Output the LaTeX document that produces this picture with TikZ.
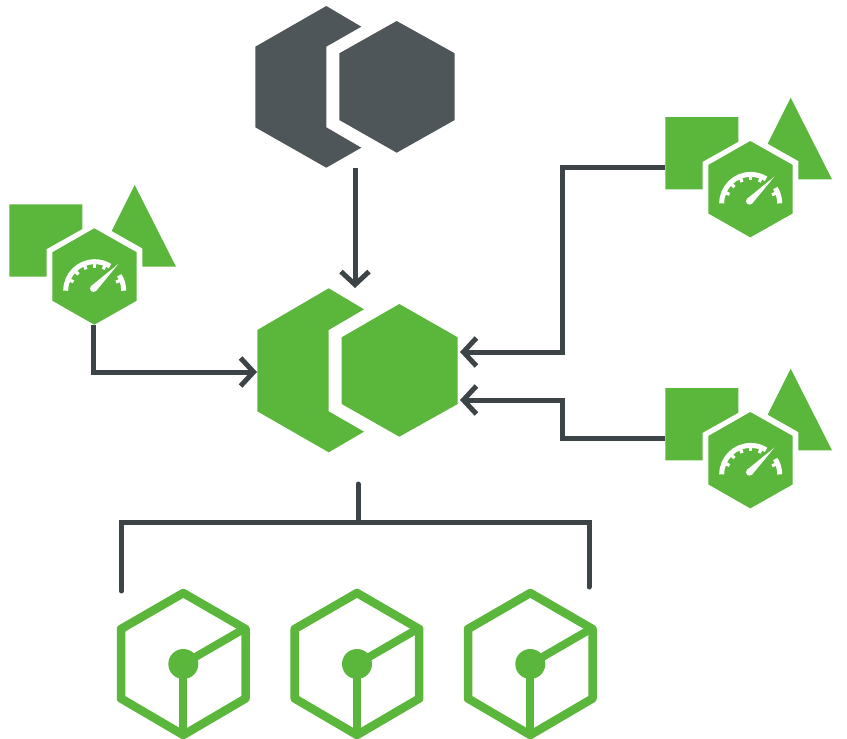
\documentclass[tikz,border=0pt]{standalone}
\usetikzlibrary{arrows.meta,calc}
\definecolor{grn}{HTML}{5BB63C}
\definecolor{slate}{HTML}{4E5659}
\definecolor{wire}{HTML}{3C4447}
\tikzset{
  x=1pt,y=-1pt,
  grnfill/.style={fill=grn,draw=none},
  darkfill/.style={fill=slate,draw=none},
  wirelink/.style={draw=wire,line width=5pt,line join=miter},
  arrowlink/.style={wirelink,-{Straight Barb[length=13pt,width=28pt,line width=5pt]}},
  pics/gaugegroup/.style={code={
    \fill[grnfill] (9.3,204.3) -- (82.3,204.3) -- (82.3,229) -- (46.7,249) -- (46.7,276.7) -- (9.3,276.7) -- cycle;
    \fill[grnfill] (134.7,185) -- (176,266.7) -- (142.3,266.7) -- (142.3,248.3) -- (111.7,231) -- cycle;
    \fill[grnfill] (94.3,228.3) -- (136.7,252.3) -- (136.7,300.7) -- (94.3,324.7) -- (52.3,300.7) -- (52.3,252.3) -- cycle;
    \coordinate (-c) at (94.7,290.7);
    \draw[white,line width=5pt] (-c) ++(-29,0) arc[start angle=180,end angle=302,radius=29];
    \draw[white,line width=5pt] (-c) ++(29,0) arc[start angle=360,end angle=328,radius=29];
    \foreach \a in {157,135,112,90,68,22}{
      \draw[white,line width=3.2pt] ($(-c)+(\a:28pt)$) -- ($(-c)+(\a:23pt)$);
    }
    \fill[white] (118.5,263.8) -- (96.2,290.8) -- (90.9,286.2) -- cycle;
    \fill[white] (93.5,288.5) circle[radius=3.5];
    \coordinate (-left) at (93,324.7);
  }},
  pics/cubeicon/.style={code={
    \draw[grn,line width=8.5pt,line join=round] (183.3,593) -- (245.5,629) -- (245.5,698.5) -- (183.3,735) -- (121,698.5) -- (121,629) -- cycle;
    \draw[grn,line width=8pt] (183.3,664) -- (183.3,735);
    \draw[grn,line width=8pt] (183.3,664) -- (245.5,628);
    \fill[grn] (183.3,664) circle[radius=15];
  }}
}
\begin{document}
\begin{tikzpicture}
\useasboundingbox (0,0) rectangle (847,739);
% dark double hexagon
\fill[darkfill] (326.3,6) -- (361.3,26.7) -- (326.3,46.7) -- (326.3,127.3) -- (361.3,147.7) -- (326.3,167.7) -- (255.3,127.3) -- (255.3,46.7) -- cycle;
\fill[darkfill] (396.7,21) -- (454.7,53.3) -- (454.7,120) -- (396.7,152.7) -- (339.3,120) -- (339.3,53.3) -- cycle;
% green double hexagon
\fill[grnfill] (328.7,288.3) -- (364,309.3) -- (328.7,330) -- (328.7,411.3) -- (364,431.7) -- (328.7,452.3) -- (257.3,411.3) -- (257.3,330) -- cycle;
\fill[grnfill] (399.3,304) -- (457.7,337.3) -- (457.7,404) -- (399.3,436.7) -- (341.7,404) -- (341.7,337.3) -- cycle;
% gauge groups
\pic (gl) at (0,0) {gaugegroup};
\pic (gt) at (656,-87.3) {gaugegroup};
\pic (gb) at (656,183.7) {gaugegroup};
% cubes
\pic (c1) at (0,0) {cubeicon};
\pic (c2) at (173.7,0) {cubeicon};
\pic (c3) at (347,0) {cubeicon};
% connector ends
\coordinate (top) at (355,168);
\coordinate (hubT) at (355,288);
\coordinate (hubL) at (257,372);
\coordinate (hubR1) at (460,352);
\coordinate (hubR2) at (460,400);
\coordinate (srcR1) at (665,167);
\coordinate (srcR2) at (665,438);
\coordinate (hubB) at (358,484);
\coordinate (junc) at (358,522);
\coordinate (d1) at (121.5,591);
\coordinate (d3) at (589,587);
% connectors
\draw[arrowlink] (top) -- (hubT);
\draw[arrowlink] (gl-left) -- (93,372) -- (hubL);
\draw[arrowlink] (srcR1) -- (562.5,167) -- (562.5,352) -- (hubR1);
\draw[arrowlink] (srcR2) -- (562.5,438) -- (562.5,400) -- (hubR2);
\draw[wirelink,line cap=round] (hubB) -- (junc);
\draw[wirelink,line cap=round] (d1) -- (121.5,522) -- (589,522) -- (d3);
\end{tikzpicture}
\end{document}
